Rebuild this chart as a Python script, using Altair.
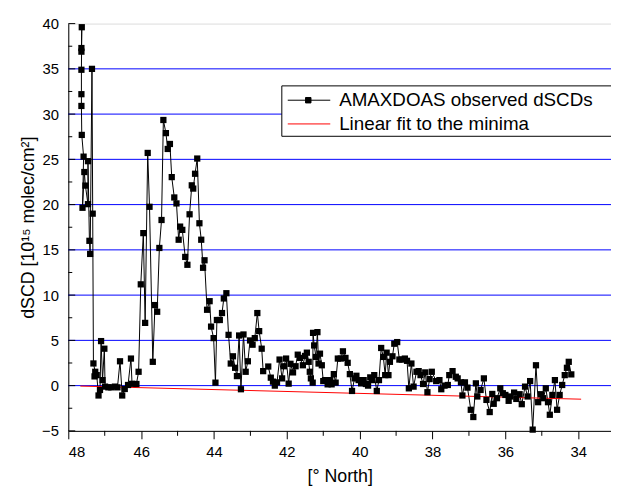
import altair as alt
import pandas as pd

# ---- data ----
lat = [47.64, 47.64, 47.63, 47.64, 47.64, 47.64, 47.63, 47.58, 47.61, 47.56,
       47.53, 47.46, 47.46, 47.42, 47.40, 47.35, 47.33, 47.31, 47.26, 47.28,
       47.22, 47.17, 47.13, 47.10, 47.06, 47.01, 46.99, 46.90, 46.82, 46.72,
       46.65, 46.58, 46.52, 46.45, 46.36, 46.28, 46.25, 46.13, 46.07, 46.01,
       45.94, 45.89, 45.82, 45.77, 45.68, 45.62, 45.56, 45.50, 45.44, 45.39,
       45.32, 45.27, 45.21, 45.16, 45.09, 45.03, 44.97, 44.93, 44.87, 44.79,
       44.73, 44.67, 44.61, 44.57, 44.52, 44.46, 44.40, 44.35, 44.30, 44.26,
       44.19, 44.12, 44.08, 44.01, 43.96, 43.92, 43.84, 43.78, 43.73, 43.66,
       43.60, 43.54, 43.48, 43.42, 43.37, 43.31, 43.26, 43.19, 43.13, 43.07,
       43.01, 42.94, 42.88, 42.81, 42.76, 42.69, 42.65, 42.51, 42.44, 42.38,
       42.33, 42.27, 42.20, 42.13, 42.08, 42.02, 41.95, 41.90, 41.83, 41.76,
       41.70, 41.64, 41.56, 41.50, 41.45, 41.40, 41.37, 41.34, 41.29, 41.28,
       41.25, 41.20, 41.16, 41.13, 41.09, 41.04, 41.00, 40.95, 40.88, 40.82,
       40.77, 40.71, 40.66, 40.60, 40.52, 40.46, 40.39, 40.33, 40.27, 40.21,
       40.14, 40.09, 40.03, 39.96, 39.89, 39.83, 39.77, 39.71, 39.66, 39.60,
       39.53, 39.47, 39.41, 39.35, 39.30, 39.26, 39.21, 39.17, 39.10, 39.05,
       38.97, 38.91, 38.84, 38.76, 38.70, 38.65, 38.58, 38.52, 38.44, 38.38,
       38.33, 38.26, 38.20, 38.14, 38.08, 38.02, 37.90, 37.81, 37.76, 37.67,
       37.58, 37.54, 37.45, 37.36, 37.31, 37.22, 37.18, 37.11, 37.04, 36.95,
       36.88, 36.81, 36.77, 36.68, 36.59, 36.52, 36.43, 36.36, 36.32, 36.23,
       36.14, 36.07, 36.00, 35.91, 35.86, 35.76, 35.70, 35.61, 35.55, 35.46,
       35.39, 35.32, 35.25, 35.16, 35.10, 35.02, 34.96, 34.89, 34.83, 34.78,
       34.71, 34.64, 34.58, 34.51, 34.44, 34.37, 34.31, 34.26, 34.19]
dscd = [37.3, 36.9, 39.6, 34.9, 32.2, 30.9, 27.7, 25.3, 19.65, 23.6,
        22.1, 20.05, 24.8, 16.0, 14.55, 35.0, 19.0, 2.45, 1.53, 1.02,
        1.16, -1.09, -0.48, 4.92, 0.61, 4.08, -0.11, -0.19, -0.19, -0.11,
        -0.19, 2.69, -1.09, -0.37, 0.07, 2.99, 0.2, 0.18, 1.53, 11.19,
        16.85, 6.93, 25.71, 19.76, 2.63, 8.9, 8.16, 15.21, 18.3, 29.35,
        27.9, 26.15, 26.7, 23.04, 20.79, 20.13, 16.12, 17.57, 17.21, 14.22,
        13.35, 18.93, 22.13, 21.77, 23.41, 25.09, 17.94, 16.12, 13.02, 13.85,
        8.38, 9.33, 6.52, 5.25, 0.33, 7.25, 7.25, 8.02, 9.63, 10.21,
        5.61, 2.44, 3.24, 1.97, 1.05, 5.54, -0.4, 5.65, 1.53, 2.69,
        4.99, 4.52, 5.25, 8.02, 6.02, 4.08, 1.6, 2.11, 0.88, 0.44,
        0.0, 0.36, 2.88, 0.8, 2.14, 2.99, 0.22, 2.41, 1.46, 2.14,
        3.42, 3.06, 2.25, 3.28, 3.64, 2.63, 1.53, 0.8, 0.33, 5.83,
        4.44, 3.17, 5.91, 2.44, 3.53, 2.25, 0.5, 0.61, 0.14, 0.61,
        0.14, 1.27, 0.33, 2.99, 2.99, 3.79, 3.06, 2.52, 1.27, -0.59,
        0.8, 1.09, 0.61, 0.25, 0.61, 0.18, 0.0, 0.91, 0.61, 1.16,
        -0.59, 0.61, 4.16, 3.17, 1.16, 3.64, 1.16, 2.63, 3.24, 4.63,
        4.81, 2.88, 2.88, 2.99, 2.74, -0.3, 2.44, -0.11, 1.53, 1.6,
        1.16, 0.18, 1.46, -0.73, 0.72, 1.53, 0.5, 0.61, -0.4, 0.0,
        0.07, 1.16, 1.6, 0.98, 0.8, 0.36, -1.09, 0.36, -0.22, -2.67,
        -3.47, 0.25, -1.2, -0.48, 0.8, -1.58, -2.92, -0.92, -2.01, -1.39,
        -0.3, -0.84, -1.03, -1.68, -1.2, -0.77, -1.47, -0.95, -2.05, -0.11,
        -1.2, 0.5, -4.86, 2.25, -1.83, -0.95, -1.39, -0.3, -1.83, -3.22,
        -1.03, 0.61, -2.67, -1.03, 0.07, 1.16, 1.97, 2.63, 1.24]

fit_lat = [47.67, 33.92]
fit_dscd = [-0.05, -1.5]

series_names = ["AMAXDOAS observed dSCDs", "Linear fit to the minima"]
grid_values = [0, 5, 10, 15, 20, 25, 30, 35]
y_major = [-5, 0, 5, 10, 15, 20, 25, 30, 35, 40]
y_minor = [-2.5, 2.5, 7.5, 12.5, 17.5, 22.5, 27.5, 32.5, 37.5]
x_major = [48, 46, 44, 42, 40, 38, 36, 34]
x_minor = [47, 45, 43, 41, 39, 37, 35]

# ---- layout ----
W, H = 549, 412
FONT = "Liberation Sans"
xscale = alt.Scale(domain=[48, 33.1], nice=False, zero=False)
yscale = alt.Scale(domain=[-5, 40], nice=False, zero=False)

obs = pd.DataFrame({"idx": list(range(len(lat))), "lat": lat, "dscd": dscd})
fit = pd.DataFrame({"lat": fit_lat, "dscd": fit_dscd})

x_axis = alt.Axis(values=x_major, format="d", title="[° North]", grid=False,
                  tickSize=8, tickColor="black", domainColor="black",
                  labelFont=FONT, labelFontSize=15, labelColor="black", labelPadding=6,
                  titleFont=FONT, titleFontSize=18, titleFontWeight="normal",
                  titleColor="black", titlePadding=8)
y_axis = alt.Axis(values=y_major, format="d", title="dSCD [10¹⁵ molec/cm²]", grid=False,
                  ticks=False, domainColor="black",
                  labelFont=FONT, labelFontSize=15, labelColor="black", labelPadding=10,
                  titleFont=FONT, titleFontSize=18, titleFontWeight="normal",
                  titleColor="black", titlePadding=4)

X = alt.X("lat:Q", scale=xscale, axis=x_axis)
Y = alt.Y("dscd:Q", scale=yscale, axis=y_axis)

grid = alt.Chart(pd.DataFrame({"dscd": grid_values})).mark_rule(
    color="#0000ff", strokeWidth=1).encode(y=Y)

line = alt.Chart(obs).mark_line(color="black", strokeWidth=1).encode(
    x=X, y=Y, order=alt.Order("idx:Q"))

fitline = alt.Chart(fit).mark_line(color="#ff0000", strokeWidth=1).encode(x=X, y=Y)

squares = alt.Chart(obs).mark_square(color="black", size=40, opacity=1).encode(x=X, y=Y)

legend_box = alt.Chart(pd.DataFrame({"k": [0]})).mark_rect(
    fill="white", stroke="black", strokeWidth=1).encode(
    x=alt.value(216), x2=alt.value(700), y=alt.value(63), y2=alt.value(114))

ytick_major = alt.Chart(pd.DataFrame({"dscd": y_major})).mark_rule(color="black").encode(
    y=Y, x=alt.value(0), x2=alt.value(7))
ytick_minor = alt.Chart(pd.DataFrame({"dscd": y_minor})).mark_rule(color="black").encode(
    y=Y, x=alt.value(0), x2=alt.value(4))
xtick_minor = alt.Chart(pd.DataFrame({"lat": x_minor})).mark_rule(color="black").encode(
    x=X, y=alt.value(H), y2=alt.value(H + 5))

sym_obs = "M-1.1,0H7.5M2.5,-0.55H3.6V0.55H2.5Z"
sym_fit = "M-1.1,0H7.5"
leg = alt.Legend(title=None, orient="none", legendX=218, legendY=68,
                 labelFont=FONT, labelFontSize=19, labelColor="black",
                 labelOffset=37, labelLimit=600, rowPadding=4, padding=0,
                 symbolSize=100, symbolStrokeWidth=1, symbolOpacity=1)
legend_layer = alt.Chart(pd.DataFrame({"series": series_names})).mark_point(
    filled=True, opacity=0).encode(
    x=alt.value(0), y=alt.value(0),
    fill=alt.Fill("series:N", scale=alt.Scale(domain=series_names, range=["black", "black"]), legend=leg),
    stroke=alt.Stroke("series:N", scale=alt.Scale(domain=series_names, range=["black", "#ff0000"]), legend=leg),
    shape=alt.Shape("series:N", scale=alt.Scale(domain=series_names, range=[sym_obs, sym_fit]), legend=leg))

chart = alt.layer(grid, line, fitline, squares, legend_box, ytick_major, ytick_minor,
                  xtick_minor, legend_layer).properties(
    width=W, height=H,
    padding={"left": 61, "top": 13, "right": 0, "bottom": 54},
    autosize=alt.AutoSizeParams(type="none"),
).configure_view(stroke=None).configure(font=FONT)

chart.save("out.html", embed_options={"renderer": "svg", "actions": False})
